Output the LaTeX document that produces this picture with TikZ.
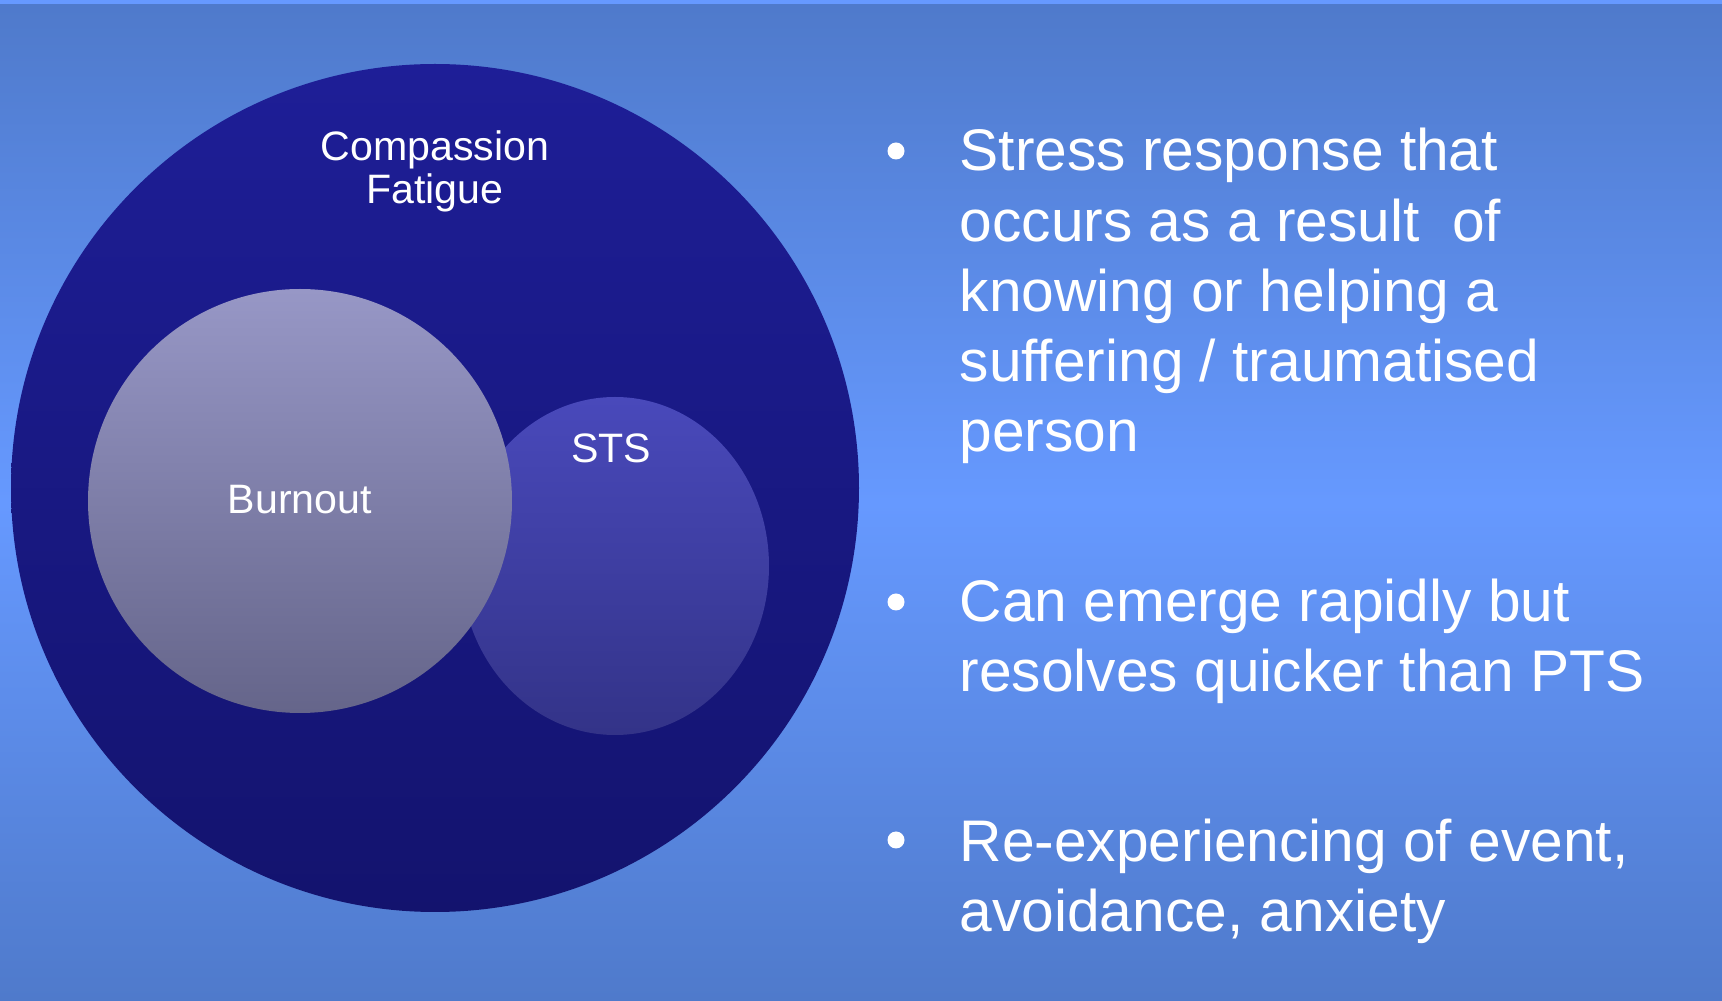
\documentclass[tikz,border=0pt]{standalone}
\usepackage{fontspec}
\setmainfont{Liberation Sans}
\usetikzlibrary{shapes.geometric, positioning}
\definecolor{bgedge}{HTML}{4F7ACB}
\definecolor{bgmid}{HTML}{6699FF}
\definecolor{cftop}{HTML}{1E1E97}
\definecolor{cfbot}{HTML}{13136E}
\definecolor{botop}{HTML}{9797C6}
\definecolor{bobot}{HTML}{65658A}
\definecolor{ststop}{HTML}{4949BB}
\definecolor{stsbot}{HTML}{333388}
\tikzset{
  disk/.style={circle, draw=none, inner sep=0pt},
  lbl/.style={text=white, font=\fontsize{11.7pt}{12.3pt}\selectfont, align=center, inner sep=0pt, anchor=base},
  bulletdot/.style={circle, fill=white, draw=none, inner sep=0pt, minimum size=1.7mm},
  bullettext/.style={text=white, font=\fontsize{16.7pt}{20pt}\selectfont, align=left, inner sep=0pt, anchor=base west}
}

\begin{document}
\begin{tikzpicture}
    \useasboundingbox (0,0) rectangle (17.22,10.01);
    \shade[top color=bgedge, bottom color=bgedge, middle color=bgmid] (0,0) rectangle (17.22,9.97);
    \fill[bgmid] (0,9.97) rectangle (17.22,10.01);

    \node[disk, minimum size=8.48cm, top color=cftop, bottom color=cfbot] (CF) at (4.35,5.13) {};
    \node[ellipse, draw=none, inner sep=0pt, minimum width=3.08cm, minimum height=3.38cm, top color=ststop, bottom color=stsbot] (STS) at (6.15,4.35) {};
    \node[disk, minimum size=4.24cm, top color=botop, bottom color=bobot] (BO) at (3.00,5.00) {};

    % base anchor sits on the last line
    \node[lbl] (CFlbl) at (4.35,7.97) {Compassion\\Fatigue};
    \node[lbl] (BOlbl) at (3.00,4.87) {Burnout};
    \node[lbl] (STSlbl) at (6.11,5.38) {STS};

    \node[bulletdot] (D1) at (8.96,8.50) {};
    \node[bulletdot] (D2) at (8.96,3.99) {};
    \node[bulletdot] (D3) at (8.96,1.61) {};
    \node[bullettext] (B1) at (9.59,5.49) {Stress response that\\occurs as a result\ \ of\\knowing or helping a\\suffering / traumatised\\person};
    \node[bullettext] (B2) at (9.59,3.09) {Can emerge rapidly but\\resolves quicker than PTS};
    \node[bullettext] (B3) at (9.59,0.69) {Re-experiencing of event,\\avoidance, anxiety};
\end{tikzpicture}
\end{document}
